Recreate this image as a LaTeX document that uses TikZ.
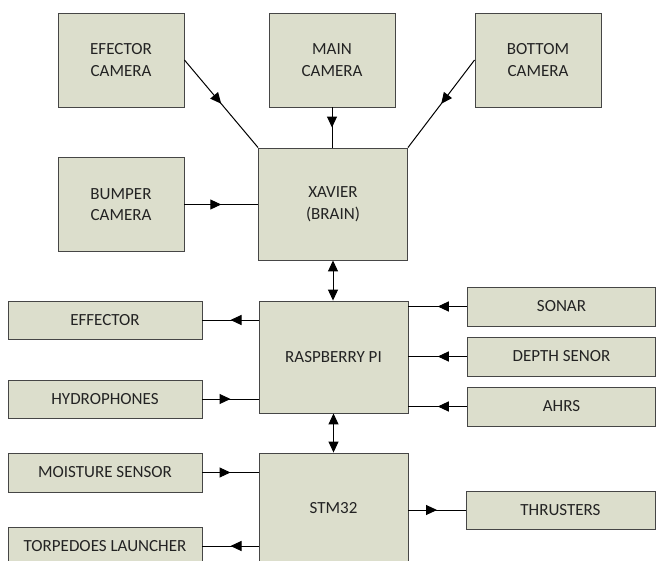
\documentclass[tikz,border=0pt]{standalone}
\usepackage{fontspec}
\setmainfont{Carlito}
\usepackage{xcolor}
\usepackage{tikz}
\usetikzlibrary{positioning}
\usetikzlibrary{decorations.markings}
\usetikzlibrary{arrows.meta}
\definecolor{boxfill}{RGB}{220,222,204}
\definecolor{boxline}{RGB}{70,70,70}
\definecolor{boxtext}{RGB}{35,35,35}
\tikzstyle{block} = [draw=boxline,fill=boxfill,line width=0.9pt,text=boxtext,align=center,inner sep=0pt,font=\fontsize{17}{21.5}\selectfont]
\tikzstyle{midarrow} = [line width=1pt,postaction={decorate},decoration={markings,mark=at position 0.5 with {\arrow{Triangle[length=11pt,width=10pt]}}}]
\tikzstyle{twoway} = [line width=1pt,{Triangle[length=11pt,width=10pt]}-{Triangle[length=11pt,width=10pt]}]

\begin{document}
\begin{tikzpicture}[x=1pt,y=-1pt]
	\useasboundingbox (0,0) rectangle (656,560);
	\tikzstyle{cam}=[block,minimum width=126pt,minimum height=94pt]
	\tikzstyle{core}=[block,minimum width=149pt,minimum height=112pt]
	\tikzstyle{leftbar}=[block,minimum width=194pt,minimum height=38pt]
	\tikzstyle{rightbar}=[block,minimum width=188pt,minimum height=39pt]
	\node[cam]      (ecam)    at (121,60)    {EFECTOR\\CAMERA};
	\node[cam]      (maincam) at (332,60)    {MAIN\\CAMERA};
	\node[cam]      (botcam)  at (538,60)    {BOTTOM\\CAMERA};
	\node[cam]      (bumpcam) at (121,204.5) {BUMPER\\CAMERA};
	\node[core]     (xavier)  at (333,204)   {XAVIER\\(BRAIN)};
	\node[core]     (rpi)     at (333.5,357) {RASPBERRY PI};
	\node[core,minimum height=110pt] (stm) at (333.5,508) {STM32};
	\node[leftbar]  (effector) at (105,320)  {EFFECTOR};
	\node[leftbar]  (hydro)    at (105,399)  {HYDROPHONES};
	\node[leftbar,minimum height=39pt] (moist) at (105,472.5) {MOISTURE SENSOR};
	\node[leftbar]  (torp)     at (105,546)  {TORPEDOES LAUNCHER};
	\node[rightbar] (sonar)    at (561.5,306.5) {SONAR};
	\node[rightbar] (depth)    at (561.5,356.5) {DEPTH SENOR};
	\node[rightbar] (ahrs)     at (561.5,406.5) {AHRS};
	\node[rightbar,minimum width=189pt,minimum height=38pt] (thrust) at (560.5,510) {THRUSTERS};
	\draw[midarrow] (ecam.east) -- (xavier.north west);
	\draw[midarrow] (maincam.south) -- (maincam.south |- xavier.north);
	\draw[midarrow] (botcam.west) -- (xavier.north east);
	\draw[midarrow] (bumpcam.east) -- (bumpcam.east -| xavier.west);
	\draw[twoway] (xavier.south) -- (xavier.south |- rpi.north);
	\draw[midarrow] (rpi.west |- effector.east) -- (effector.east);
	\draw[midarrow] (hydro.east) -- (hydro.east -| rpi.west);
	\draw[midarrow] (sonar.west) -- (sonar.west -| rpi.east);
	\draw[midarrow] (depth.west) -- (depth.west -| rpi.east);
	\draw[midarrow] (ahrs.west) -- (ahrs.west -| rpi.east);
	\draw[twoway] (rpi.south) -- (rpi.south |- stm.north);
	\draw[midarrow] (moist.east) -- (moist.east -| stm.west);
	\draw[midarrow] (stm.west |- torp.east) -- (torp.east);
	\draw[midarrow] (stm.east |- thrust.west) -- (thrust.west);
\end{tikzpicture}
\end{document}
